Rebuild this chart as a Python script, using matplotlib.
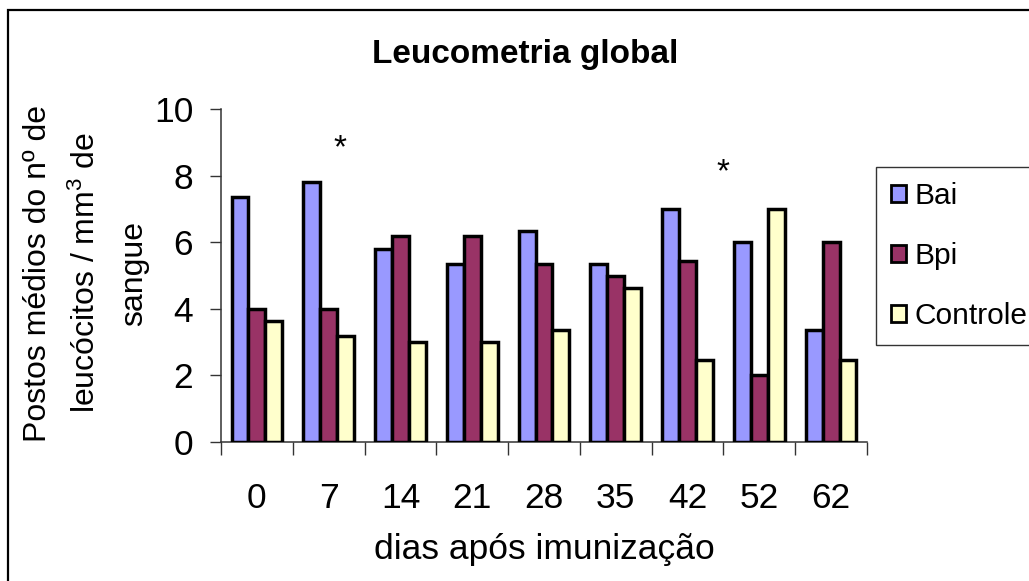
import numpy as np
import matplotlib
matplotlib.use("Agg")
import matplotlib.pyplot as plt
from matplotlib.patches import Rectangle

plt.rcParams["font.family"] = ["Liberation Sans", "DejaVu Sans"]
plt.rcParams["mathtext.fontset"] = "custom"
plt.rcParams["mathtext.rm"] = "Liberation Sans"
plt.rcParams["mathtext.it"] = "Liberation Sans"

# data
days = ["0", "7", "14", "21", "28", "35", "42", "52", "62"]
bai = [7.35, 7.8, 5.8, 5.35, 6.35, 5.35, 7.0, 6.0, 3.35]
bpi = [4.0, 4.0, 6.18, 6.18, 5.35, 5.0, 5.45, 2.0, 6.0]
controle = [3.63, 3.17, 3.0, 3.0, 3.35, 4.62, 2.45, 7.0, 2.45]
series = ["Bai", "Bpi", "Controle"]
colors = ["#9999FF", "#993366", "#FFFFCC"]
# significance marks (x in category units, y in data units)
star_x = [1.16, 6.5]
star_y = [8.8, 8.1]

fig = plt.figure(figsize=(10.29, 5.81), dpi=100)
ax = fig.add_axes([221 / 1029, 139 / 581, 646 / 1029, 333 / 581])

x = np.arange(len(days))
w = 0.235
for k, (vals, name, col) in enumerate(zip([bai, bpi, controle], series, colors)):
    ax.bar(x + (k - 1) * w, vals, width=w, color=col, edgecolor="black",
           linewidth=2.5, label=name, zorder=3)

ax.set_xlim(-0.5, len(days) - 0.5)
ax.set_ylim(0, 10)
ax.set_yticks(range(0, 11, 2))
ax.tick_params(axis="y", direction="out", length=8, width=1, pad=12,
               labelsize=25.5, color="#333333")
ax.set_xticks(np.arange(len(days) + 1) - 0.5)
ax.set_xticklabels([])
ax.set_xticks(x, minor=True)
ax.set_xticklabels(days, minor=True)
ax.tick_params(axis="x", which="major", direction="out", length=9, width=1, color="#333333")
ax.tick_params(axis="x", which="minor", length=0, pad=29, labelsize=25.5)
for s in ["top", "right"]:
    ax.spines[s].set_visible(False)
for s in ["left", "bottom"]:
    ax.spines[s].set_linewidth(1.1)
    ax.spines[s].set_color("#333333")

for sx, sy in zip(star_x, star_y):
    ax.text(sx, sy, "*", fontsize=24, ha="center", va="center")

fig.text(525 / 1029, 1 - 54 / 581, "Leucometria global", fontsize=24,
         fontweight="bold", ha="center", va="center")
fig.text(544 / 1029, 1 - 550 / 581, "dias após imunização", fontsize=25.5,
         ha="center", va="center")
fig.text(86 / 1029, 1 - 273 / 581,
         "Postos médios do nº de\nleucócitos / mm$^3$ de\nsangue",
         fontsize=23, rotation=90, ha="center", va="center",
         multialignment="center", linespacing=1.75)

leg = ax.legend(loc="upper left", bbox_to_anchor=(876 / 1029, 1 - 167 / 581),
                bbox_transform=fig.transFigure, fontsize=21.5, frameon=True,
                fancybox=False, handlelength=0.5, handleheight=0.5,
                handletextpad=0.3, labelspacing=1.08, borderpad=0.5,
                borderaxespad=0)
leg.get_frame().set_edgecolor("black")
leg.get_frame().set_linewidth(1.0)
for h in leg.legend_handles:
    h.set_linewidth(2.0)

fig.patches.append(Rectangle((8 / 1029, -0.1), 1.2, 1.1 - 10 / 581,
                             transform=fig.transFigure, fill=False,
                             edgecolor="black", linewidth=1.6))

fig.savefig("out.png", dpi=100)
